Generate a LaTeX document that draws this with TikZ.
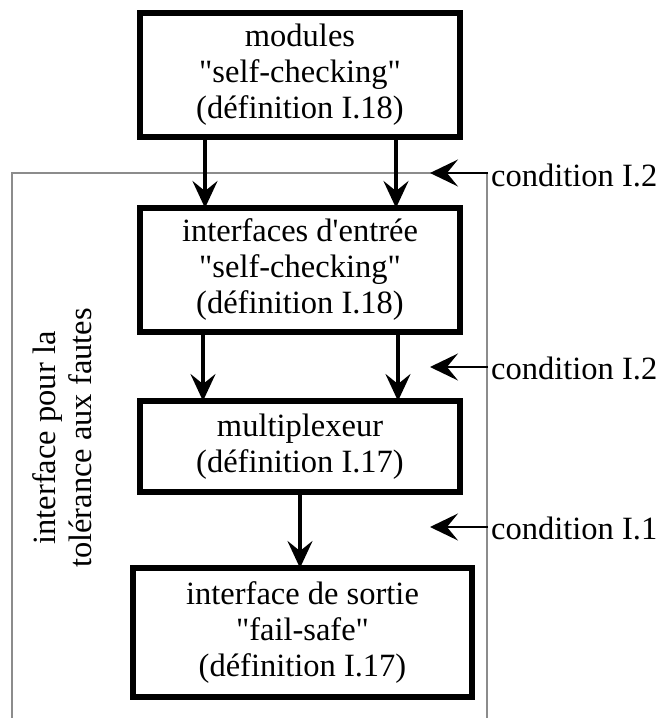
\documentclass[tikz,border=0pt]{standalone}
\usepackage{fontspec}
\setmainfont{Liberation Serif}
\usetikzlibrary{arrows.meta}
\newcommand{\dq}{\textquotedbl}
\begin{document}
\begin{tikzpicture}[x=1pt,y=-1pt,
  font=\fontsize{32.5}{36}\selectfont,
  blk/.style={draw=black,line width=6pt,fill=white,align=center,inner sep=0pt},
  arr/.style={line width=3.5pt,-{Stealth[length=27pt,width=25pt,inset=10pt]}},
  carr/.style={line width=2pt,-{Stealth[length=28pt,width=27pt,inset=11pt]}},
  cond/.style={anchor=west,inner sep=0pt},
  frame/.style={draw=black!45,line width=2.5pt}]
\useasboundingbox (0,0) rectangle (656,718);
% frame
\coordinate (f1) at (12,718);
\coordinate (f2) at (12,173);
\coordinate (f3) at (487,173);
\coordinate (f4) at (487,718);
\draw[frame] (f1) -- (f2) -- (f3) -- (f4);
% boxes
\node[blk,minimum width=320pt,minimum height=124pt] (b1) at (300,75)
  {modules\\\dq self-checking\dq\\(définition I.18)};
\node[blk,minimum width=320pt,minimum height=124pt] (b2) at (300,270)
  {interfaces d\textquotesingle entrée\\\dq self-checking\dq\\(définition I.18)};
\node[blk,minimum width=320pt,minimum height=91pt] (b3) at (300,446.5)
  {multiplexeur\\(définition I.17)};
\node[blk,minimum width=339pt,minimum height=129pt] (b4) at (302.5,632.5)
  {interface de sortie\\\dq fail-safe\dq\\(définition I.17)};
% arrows between boxes
\draw[arr] ([xshift=-95pt]b1.south) -- ([xshift=-95pt,yshift=-3pt]b2.north);
\draw[arr] ([xshift=96pt]b1.south) -- ([xshift=96pt,yshift=-3pt]b2.north);
\draw[arr] ([xshift=-97pt]b2.south) -- ([xshift=-97pt,yshift=-3pt]b3.north);
\draw[arr] ([xshift=98pt]b2.south) -- ([xshift=98pt,yshift=-3pt]b3.north);
\draw[arr] (b3.south) -- ([yshift=-3pt]b3.south |- b4.north);
% side label
\node[rotate=90,align=center,inner sep=0pt] (side) at (62,438)
  {interface pour la\\tolérance aux fautes};
% conditions
\node[cond] (c1) at (491,175) {condition I.2};
\node[cond] (c2) at (491,368) {condition I.2};
\node[cond] (c3) at (491,528) {condition I.1};
\coordinate (t1) at (430,173);
\coordinate (t2) at (430,367);
\coordinate (t3) at (430,527);
\draw[carr] (c1.west |- t1) ++(-3,0) -- (t1);
\draw[carr] (c2.west |- t2) ++(-3,0) -- (t2);
\draw[carr] (c3.west |- t3) ++(-3,0) -- (t3);
\end{tikzpicture}
\end{document}
